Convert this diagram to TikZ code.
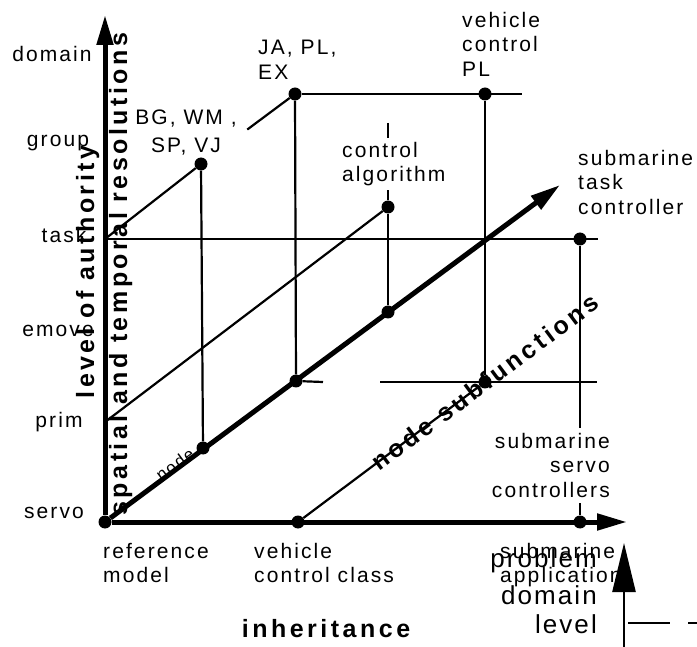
\documentclass[tikz,border=0pt]{standalone}
\usepackage{fontspec}
\setmainfont{Liberation Sans}[LetterSpace=10]
\usepackage{tikz}
\usetikzlibrary{arrows.meta, positioning}
\newcommand\rmlabelfont{\fontsize{21}{24.5}\selectfont}
\newcommand\rmtitlefont{\fontsize{25}{28}\selectfont\bfseries\addfontfeature{LetterSpace=14}}
\tikzset{
  rm-axis/.style={line width=5pt, -{Triangle[length=30pt,width=16pt]}},
  rm-line/.style={line width=2.2pt},
  rm-dot/.style={circle, fill=black, inner sep=0pt, minimum size=13pt},
  rm-label/.style={font=\rmlabelfont, inner sep=0pt, align=left},
  rm-title/.style={font=\rmtitlefont, inner sep=0pt},
}

\begin{document}
\begin{tikzpicture}[x=1pt, y=-1pt]
  \useasboundingbox (0,0) rectangle (697,647);

  \node[rm-dot] (ref)   at (105,522) {};
  \node[rm-dot] (vcc)   at (298,522) {};
  \node[rm-dot] (sapp)  at (580,522) {};
  \node[rm-dot] (nbase) at (203,448) {};
  \node[rm-dot] (bg)    at (201,164) {};
  \node[rm-dot] (ja)    at (295,94)  {};
  \node[rm-dot] (vpl)   at (485,94)  {};
  \node[rm-dot] (alg)   at (388,207) {};
  \node[rm-dot] (algd)  at (388,312) {};
  \node[rm-dot] (jad)   at (296,381) {};
  \node[rm-dot] (sub)   at (485,382) {};
  \node[rm-dot] (stc)   at (580,239) {};

  \coordinate (ytip)    at (105,15);
  \coordinate (xtip)    at (627,522);
  \coordinate (dtip)    at (560,185);
  \coordinate (task0)   at (105,239);
  \coordinate (taskend) at (598,239);
  \coordinate (prim0)   at (105,422);
  \coordinate (domend)  at (522,94);
  \coordinate (algtop)  at (388,123);
  \coordinate (cutl)    at (323,382);
  \coordinate (cutr)    at (380,382);
  \coordinate (lowend)  at (597,382);
  \coordinate (pdbot)   at (624,650);
  \coordinate (pdtip)   at (624,543);
  \coordinate (dashl)   at (628,623);
  \coordinate (dashr)   at (700,623);

  \draw[rm-axis] (ref) -- (ytip);
  \draw[rm-axis] (ref) -- (xtip);
  \draw[rm-axis] (ref) -- node[pos=0.15, sloped, inner sep=0pt, above=-4pt,
        font=\fontsize{17}{18}\selectfont] (t-node) {node} (dtip);

  \draw[rm-line] (task0) -- (taskend);
  \draw[rm-line] (task0) -- (bg);
  \draw[rm-line, shorten <=51pt] (bg) -- (ja);
  \draw[rm-line] (ja) -- (domend);
  \draw[rm-line] (ja) -- (jad);
  \draw[rm-line] (vpl) -- (sub);
  \draw[rm-line] (bg) -- (nbase);
  \draw[rm-line] (algtop) -- (alg) -- (algd);
  \draw[rm-line] (prim0) -- (alg);
  \draw[rm-line] (jad) -- (cutl);
  \draw[rm-line] (cutr) -- (lowend);
  \draw[rm-line] (stc) -- (sapp);
  \draw[rm-line] (vcc) -- node[pos=1.03, sloped, rm-title] (t-sub) {node subfunctions} (sub);
  \draw[line width=2.5pt, -{Triangle[length=49pt,width=23pt]}] (pdbot) -- (pdtip);
  \draw[line width=2.5pt, dash pattern=on 42pt off 18pt] (dashl) -- (dashr);

  \node[rm-label, anchor=base] (lv-domain) at (52,62)  {domain};
  \node[rm-label, anchor=base] (lv-group)  at (58,147) {group};
  \node[rm-label, anchor=base] (lv-task)   at (64,243) {task};
  \node[rm-label, anchor=base] (lv-emove)  at (58,337) {emove};
  \node[rm-label, anchor=base] (lv-prim)   at (59,428) {prim};
  \node[rm-label, anchor=base] (lv-servo)  at (54,518) {servo};

  \node[rm-title, rotate=90, anchor=base] (t-auth) at (94,272)  {level of authority};
  \node[rm-title, rotate=90, anchor=base] (t-res)  at (127,274) {spatial and temporal resolutions};
  \node[rm-title, anchor=base]            (t-inh)  at (326,637) {inheritance};

  \node[rm-label, anchor=north west] (l-ref)  at (103,543) {reference\\model};
  \node[rm-label, anchor=north west] (l-vcc)  at (254,543) {vehicle\\control class};
  \node[rm-label, anchor=north west] (l-sapp) at (500,543) {submarine\\application};
  \node[rm-label, anchor=north west] (l-ja)   at (258,40)  {JA, PL,\\EX};
  \node[rm-label, anchor=north west] (l-vpl)  at (462,12)  {vehicle\\control\\PL};
  \node[rm-label, anchor=north west] (l-stc)  at (578,150) {submarine\\task\\controller};
  \node[rm-label, align=center, anchor=north] (l-bg) at (186,110) {BG, WM ,\\[3.5pt]SP,  VJ};
  \node[rm-label, fill=white, inner xsep=2pt, inner ysep=4pt,
        anchor=north west] (l-alg) at (340,138) {control\\algorithm};
  \node[rm-label, align=right, fill=white, inner xsep=2pt, inner ysep=5pt,
        anchor=north east] (l-servo) at (612,428) {submarine\\servo\\controllers};
  \node[rm-label, align=right, font=\fontsize{26}{33}\selectfont\addfontfeature{LetterSpace=8},
        anchor=north east] (l-prob) at (597,548) {problem\\[4pt]domain\\[-4pt]level};
\end{tikzpicture}
\end{document}
